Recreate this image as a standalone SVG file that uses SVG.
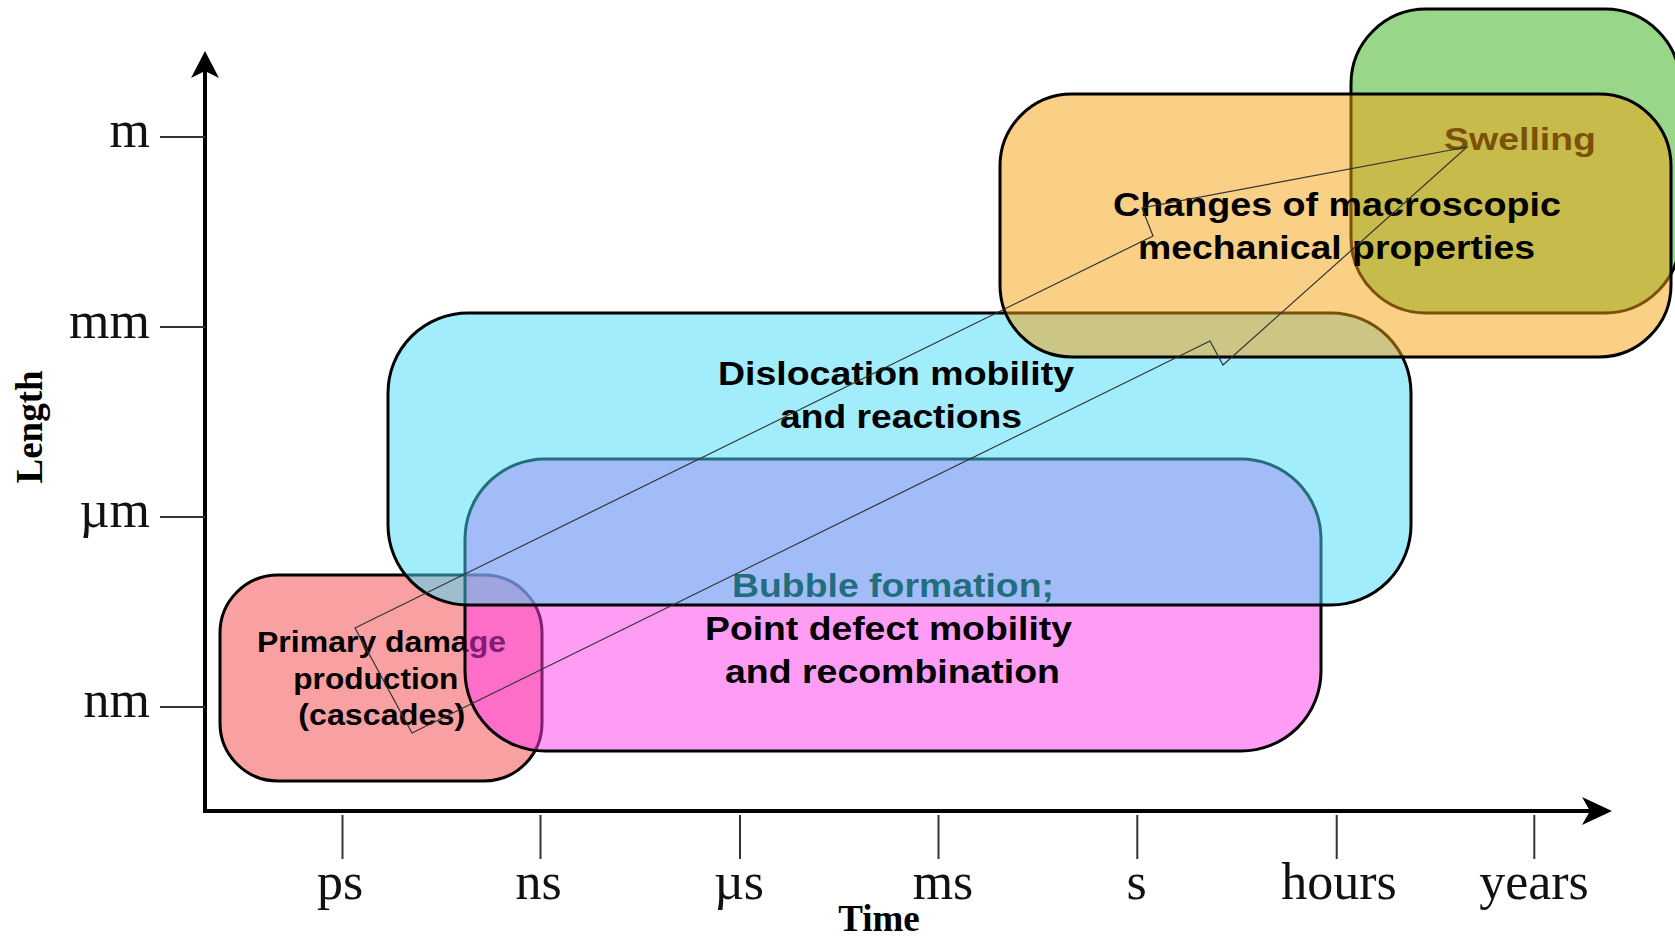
<svg xmlns="http://www.w3.org/2000/svg" width="1675" height="937" viewBox="0 0 1675 937">
  <style>
    .box { stroke: #000; stroke-width: 3; fill-opacity: 0.5; }
    .t { font-family: "Liberation Sans", Arial, Helvetica, sans-serif; font-weight: bold; fill: #000; text-anchor: middle; }
    .tick { stroke: #333; stroke-width: 2; }
    .tl { font-family: "Liberation Serif", "Times New Roman", serif; font-size: 52px; fill: #111; }
    .ax { font-family: "Liberation Serif", "Times New Roman", serif; font-size: 37px; font-weight: bold; fill: #000; text-anchor: middle; }
    .axis { stroke: #000; stroke-width: 4; fill: none; }
    .conn { stroke: #333; stroke-width: 1.2; fill: none; stroke-linejoin: miter; }
  </style>
  <rect width="1675" height="937" fill="#fff"/>

  <g id="axes">
    <line class="axis" x1="205" y1="70" x2="205" y2="813"/>
    <line class="axis" x1="203" y1="811" x2="1595" y2="811"/>
    <path d="M205,51 L219,78 L205,71 L191,78 Z" fill="#000"/>
    <path d="M1612,811 L1582,797 L1590,811 L1582,825 Z" fill="#000"/>
    <line class="tick" x1="160" y1="137" x2="205" y2="137"/>
    <line class="tick" x1="160" y1="327" x2="205" y2="327"/>
    <line class="tick" x1="160" y1="517" x2="205" y2="517"/>
    <line class="tick" x1="160" y1="707" x2="205" y2="707"/>
    <text class="tl" x="150" y="147" text-anchor="end">m</text>
    <text class="tl" x="150" y="338" text-anchor="end">mm</text>
    <text class="tl" x="150" y="527" text-anchor="end">µm</text>
    <text class="tl" x="150" y="717" text-anchor="end">nm</text>
    <line class="tick" x1="342.5" y1="815" x2="342.5" y2="859"/>
    <line class="tick" x1="540.5" y1="815" x2="540.5" y2="859"/>
    <line class="tick" x1="740" y1="815" x2="740" y2="859"/>
    <line class="tick" x1="938.5" y1="815" x2="938.5" y2="859"/>
    <line class="tick" x1="1137.3" y1="815" x2="1137.3" y2="859"/>
    <line class="tick" x1="1336.7" y1="815" x2="1336.7" y2="859"/>
    <line class="tick" x1="1534.3" y1="815" x2="1534.3" y2="859"/>
    <text class="tl" x="340" y="899" text-anchor="middle">ps</text>
    <text class="tl" x="538.5" y="899" text-anchor="middle">ns</text>
    <text class="tl" x="739" y="899" text-anchor="middle">µs</text>
    <text class="tl" x="943" y="899" text-anchor="middle">ms</text>
    <text class="tl" x="1136.7" y="899" text-anchor="middle">s</text>
    <text class="tl" x="1339" y="899" text-anchor="middle">hours</text>
    <text class="tl" x="1534" y="899" text-anchor="middle">years</text>
    <text class="ax" x="879" y="931">Time</text>
    <text class="ax" transform="translate(42,427) rotate(-90)" x="0" y="0">Length</text>
  </g>

  <g id="node-primary-damage">
    <rect class="box" x="220" y="575" width="322" height="206" rx="58" ry="58" fill="#f44446"/>
    <text class="t" font-size="30" x="381.5" y="652" textLength="249" lengthAdjust="spacingAndGlyphs">Primary damage</text>
    <text class="t" font-size="30" x="375.8" y="688.5" textLength="165" lengthAdjust="spacingAndGlyphs">production</text>
    <text class="t" font-size="30" x="381.7" y="725" textLength="167" lengthAdjust="spacingAndGlyphs">(cascades)</text>
  </g>

  <g id="node-point-defect">
    <rect class="box" x="465" y="459" width="856" height="292" rx="80" ry="80" fill="#ff3beb"/>
    <text class="t" font-size="33" x="893" y="597" textLength="322" lengthAdjust="spacingAndGlyphs">Bubble formation;</text>
    <text class="t" font-size="33" x="888.5" y="640" textLength="367" lengthAdjust="spacingAndGlyphs">Point defect mobility</text>
    <text class="t" font-size="33" x="892.5" y="683" textLength="335" lengthAdjust="spacingAndGlyphs">and recombination</text>
  </g>

  <g id="node-dislocation">
    <rect class="box" x="388" y="313" width="1023" height="292" rx="80" ry="80" fill="#43dbf9"/>
    <text class="t" font-size="33" x="896" y="385" textLength="356" lengthAdjust="spacingAndGlyphs">Dislocation mobility</text>
    <text class="t" font-size="33" x="901" y="427.5" textLength="242" lengthAdjust="spacingAndGlyphs">and reactions</text>
  </g>

  <g id="node-swelling">
    <rect class="box" x="1351" y="9" width="329" height="304" rx="75" ry="75" fill="#31ad15"/>
    <text class="t" font-size="32" x="1520" y="150" textLength="152" lengthAdjust="spacingAndGlyphs">Swelling</text>
  </g>

  <g id="node-mechanical">
    <rect class="box" x="1000" y="94" width="671" height="263" rx="72" ry="72" fill="#f59f0d"/>
    <text class="t" font-size="33" x="1337" y="216" textLength="448" lengthAdjust="spacingAndGlyphs">Changes of macroscopic</text>
    <text class="t" font-size="33" x="1336.5" y="258.5" textLength="397" lengthAdjust="spacingAndGlyphs">mechanical properties</text>
  </g>

  <g id="connectors">
    <polygon class="conn" points="1467,147 1142,208 1153,236 355,628 412,733 1210,341 1223,365"/>
  </g>
</svg>
